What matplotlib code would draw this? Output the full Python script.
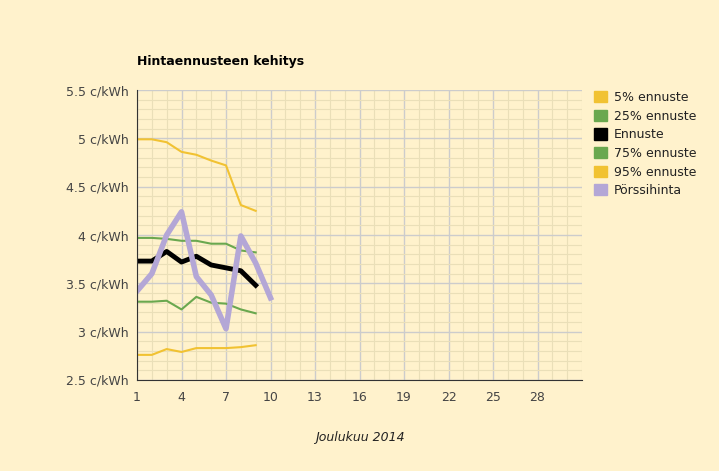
import matplotlib
matplotlib.use("Agg")
import matplotlib.pyplot as plt
from matplotlib.ticker import MultipleLocator
from matplotlib.patches import Patch

days = list(range(1, 10))
p5 = [4.99, 4.99, 4.96, 4.86, 4.83, 4.77, 4.72, 4.31, 4.25]
p25 = [3.97, 3.97, 3.96, 3.94, 3.94, 3.91, 3.91, 3.84, 3.82]
fc = [3.73, 3.73, 3.83, 3.72, 3.78, 3.69, 3.66, 3.63, 3.48]
p75 = [3.31, 3.31, 3.32, 3.23, 3.36, 3.30, 3.29, 3.23, 3.19]
p95 = [2.76, 2.76, 2.82, 2.79, 2.83, 2.83, 2.83, 2.84, 2.86]
spot_days = list(range(1, 11))
spot = [3.42, 3.60, 4.00, 4.24, 3.57, 3.38, 3.03, 3.99, 3.71, 3.35]
xticks = [1, 4, 7, 10, 13, 16, 19, 22, 25, 28]

bg = "#fff2cc"
yel, grn, pur = "#f1c232", "#6aa84f", "#b4a7d6"

fig = plt.figure(figsize=(7.19, 4.71), dpi=100, facecolor=bg)
ax = fig.add_axes([137/719, 1-380/471, 445/719, 290/471], facecolor=bg)
ax.plot(days, p5, color=yel, lw=1.5, label="5% ennuste")
ax.plot(days, p25, color=grn, lw=1.5, label="25% ennuste")
ax.plot(days, fc, color="black", lw=3.5, label="Ennuste")
ax.plot(days, p75, color=grn, lw=1.5, label="75% ennuste")
ax.plot(days, p95, color=yel, lw=1.5, label="95% ennuste")
ax.plot(spot_days, spot, color=pur, lw=4, label="Pörssihinta")

ax.set_xlim(1, 31)
ax.set_ylim(2.5, 5.5)
ax.set_xticks(xticks)
ax.xaxis.set_minor_locator(MultipleLocator(1))
ax.yaxis.set_minor_locator(MultipleLocator(0.1))
ax.set_yticks([2.5, 3, 3.5, 4, 4.5, 5, 5.5])
ax.set_yticklabels(["2.5 c/kWh", "3 c/kWh", "3.5 c/kWh", "4 c/kWh", "4.5 c/kWh", "5 c/kWh", "5.5 c/kWh"])
ax.grid(which="major", color="#cccccc", lw=1)
ax.grid(which="minor", color="#eadfb8", lw=0.8)
ax.set_axisbelow(True)
ax.tick_params(which="both", length=0, labelsize=9, colors="#444444")
ax.tick_params(axis="x", pad=8)
ax.tick_params(axis="y", pad=6)
for s in ["top", "right"]:
    ax.spines[s].set_visible(False)
ax.spines["left"].set_color("#333333")
ax.spines["bottom"].set_color("#333333")

fig.text(137/719, 1-62/471, "Hintaennusteen kehitys", fontsize=9, fontweight="bold", va="center")
fig.text(360/719, 1-437/471, "Joulukuu 2014", fontsize=9, style="italic", ha="center", va="center", color="#222222")

handles = [Patch(color=yel), Patch(color=grn), Patch(color="black"), Patch(color=grn), Patch(color=yel), Patch(color=pur)]
labels = ["5% ennuste", "25% ennuste", "Ennuste", "75% ennuste", "95% ennuste", "Pörssihinta"]
fig.legend(handles, labels, loc="upper left", bbox_to_anchor=(589/719, 1-86/471), frameon=False,
           fontsize=9, handlelength=1.0, handleheight=1.0, handletextpad=0.6, labelspacing=0.45,
           labelcolor="#222222", borderaxespad=0)
fig.savefig("out.png", dpi=100, facecolor=bg)
